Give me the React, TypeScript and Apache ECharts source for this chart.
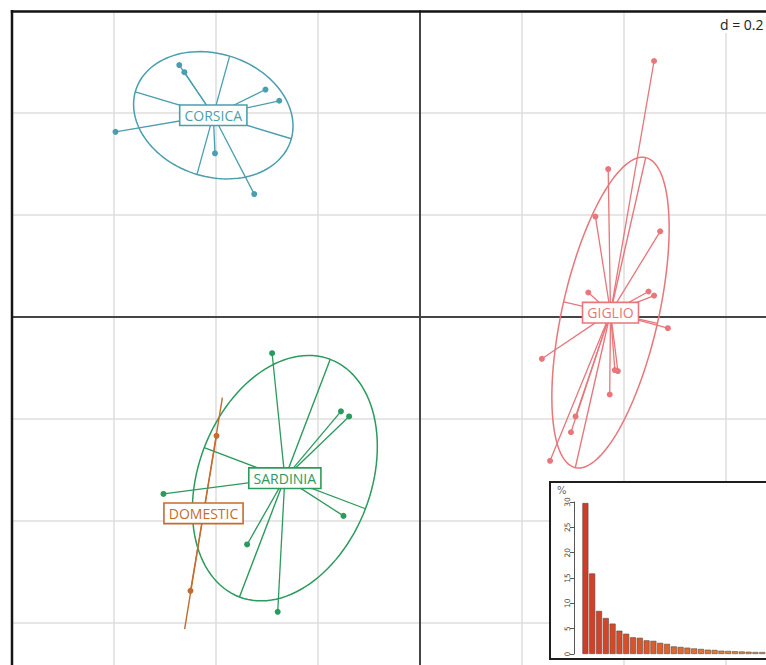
import React, { useEffect, useRef } from "react";
import * as echarts from "echarts";

// ---- data (axis units; grid step d = 0.2) ----
const groupNames = ["CORSICA", "GIGLIO", "SARDINIA", "DOMESTIC"];
const groupColors = ["#4a9fae", "#e8767b", "#2b9a5d", "#c46c2e"];

const corsicaX = [-0.472, -0.462, -0.303, -0.276, -0.597, -0.402, -0.325];
const corsicaY = [0.494, 0.48, 0.446, 0.424, 0.363, 0.321, 0.241];

const giglioX = [0.459, 0.369, 0.344, 0.471, 0.33, 0.448, 0.459, 0.486, 0.239, 0.382, 0.388, 0.372, 0.305, 0.296, 0.255];
const giglioY = [0.502, 0.29, 0.197, 0.168, 0.048, 0.05, 0.042, -0.022, -0.082, -0.104, -0.106, -0.152, -0.195, -0.226, -0.282];

const sardiniaX = [-0.29, -0.155, -0.139, -0.503, -0.15, -0.339, -0.279];
const sardiniaY = [-0.071, -0.185, -0.195, -0.347, -0.39, -0.446, -0.578];

const domesticX = [-0.399, -0.45];
const domesticY = [-0.233, -0.537];

// ellipse semi-axes (major, minor) per group
const ellipseMajor = [
  [0.153, -0.046],
  [0.069, 0.304],
  [0.089, 0.233],
  [0.037, 0.227],
];
const ellipseMinor = [
  [0.032, 0.116],
  [0.092, -0.021],
  [0.158, -0.06],
  [0, 0],
];

// inset: eigenvalues (%)
const eigenPct = [29.8, 15.9, 8.5, 7.1, 6.0, 4.6, 4.0, 3.3, 3.2, 2.7, 2.6, 2.2, 2.0, 1.5, 1.4, 1.25, 1.1, 1.0, 0.85, 0.8, 0.65, 0.6, 0.55, 0.5, 0.45, 0.4, 0.38, 0.35, 0.32, 0.3];
const eigenIdx = eigenPct.map((_, i) => String(i + 1));

const groupX = [corsicaX, giglioX, sardiniaX, domesticX];
const groupY = [corsicaY, giglioY, sardiniaY, domesticY];

const mean = (a: number[]) => a.reduce((s, v) => s + v, 0) / a.length;

function hexToRgb(h: string) {
  const n = parseInt(h.slice(1), 16);
  return [(n >> 16) & 255, (n >> 8) & 255, n & 255];
}
function mix(stops: [number, string][], t: number) {
  for (let i = 0; i < stops.length - 1; i++) {
    const [t0, c0] = stops[i];
    const [t1, c1] = stops[i + 1];
    if (t <= t1) {
      const f = (t - t0) / (t1 - t0);
      const a = hexToRgb(c0);
      const b = hexToRgb(c1);
      const r = a.map((v, k) => Math.round(v + (b[k] - v) * f));
      return `rgb(${r[0]},${r[1]},${r[2]})`;
    }
  }
  return stops[stops.length - 1][1];
}
const barStops: [number, string][] = [
  [0, "#d03c27"],
  [0.35, "#dc5c2c"],
  [0.7, "#e27e38"],
  [1, "#c9a07a"],
];

export default function App() {
  const ref = useRef<HTMLDivElement>(null);
  useEffect(() => {
    if (!ref.current) return;
    const chart = echarts.init(ref.current, undefined, { renderer: "svg" });

    const centroids = groupX.map((xs, gi) => [mean(xs), mean(groupY[gi])]);

    const renderGroup = (gi: number) => (_params: any, api: any) => {
      const xs = groupX[gi];
      const ys = groupY[gi];
      const [cx, cy] = centroids[gi];
      const col = groupColors[gi];
      const C = api.coord([cx, cy]);
      const [ax, ay] = ellipseMajor[gi];
      const [bx, by] = ellipseMinor[gi];
      const hasMinor = bx !== 0 || by !== 0;
      const children: any[] = [];
      const line = (p: number[], q: number[], w = 1.3) => ({
        type: "line",
        shape: { x1: p[0], y1: p[1], x2: q[0], y2: q[1] },
        style: { stroke: col, lineWidth: w, fill: null },
      });
      if (hasMinor) {
        const ell: number[][] = [];
        for (let k = 0; k <= 120; k++) {
          const t = (2 * Math.PI * k) / 120;
          ell.push(
            api.coord([
              cx + ax * Math.cos(t) + bx * Math.sin(t),
              cy + ay * Math.cos(t) + by * Math.sin(t),
            ])
          );
        }
        children.push({
          type: "polyline",
          shape: { points: ell },
          style: { stroke: col, lineWidth: 1.5, fill: null },
        });
        children.push(line(api.coord([cx + bx, cy + by]), api.coord([cx - bx, cy - by])));
      }
      children.push(line(api.coord([cx + ax, cy + ay]), api.coord([cx - ax, cy - ay]), 1.4));
      xs.forEach((x, j) => children.push(line(C, api.coord([x, ys[j]]))));
      xs.forEach((x, j) => {
        const P = api.coord([x, ys[j]]);
        children.push({ type: "circle", shape: { cx: P[0], cy: P[1], r: 3 }, style: { fill: col } });
      });
      children.push({
        type: "text",
        x: C[0],
        y: C[1],
        z2: 10,
        style: {
          text: groupNames[gi],
          fill: col,
          fontFamily: "Open Sans",
          fontSize: 14,
          align: "center",
          verticalAlign: "middle",
          backgroundColor: "#ffffff",
          borderColor: col,
          borderWidth: 1.6,
          padding: [3, 4, 2, 4],
        },
      });
      return { type: "group", children };
    };

    const groupSeries = groupNames.map((name, gi) => ({
      type: "custom",
      name,
      xAxisIndex: 0,
      yAxisIndex: 0,
      data: [centroids[gi]],
      renderItem: renderGroup(gi),
      silent: true,
      z: 2,
    }));

    const barColors = eigenPct.map((_, i) => mix(barStops, i / (eigenPct.length - 1)));

    chart.setOption({
      animation: false,
      backgroundColor: "#ffffff",
      grid: [
        { left: 12, top: 11, width: 816, height: 714, show: false },
        { left: 582, top: 502, width: 204, height: 152 },
      ],
      xAxis: [
        {
          type: "value",
          gridIndex: 0,
          min: -0.8,
          max: 0.8,
          interval: 0.2,
          axisLine: { show: true, onZero: true, lineStyle: { color: "#454545", width: 2 } },
          axisTick: { show: false },
          axisLabel: { show: false },
          splitLine: { show: true, lineStyle: { color: "#dedede", width: 1.5 } },
        },
        { type: "category", gridIndex: 1, data: eigenIdx, show: false },
      ],
      yAxis: [
        {
          type: "value",
          gridIndex: 0,
          min: -0.8,
          max: 0.6,
          interval: 0.2,
          axisLine: { show: true, onZero: true, lineStyle: { color: "#454545", width: 2 } },
          axisTick: { show: false },
          axisLabel: { show: false },
          splitLine: { show: true, lineStyle: { color: "#dedede", width: 1.5 } },
        },
        {
          type: "value",
          gridIndex: 1,
          min: 0,
          max: 30,
          interval: 5,
          offset: 8,
          z: 60,
          axisLine: { show: true, lineStyle: { color: "#555555", width: 1 } },
          axisTick: { show: true, length: 4, lineStyle: { color: "#555555" } },
          axisLabel: { rotate: 90, fontSize: 7.5, color: "#444444", margin: 3, fontFamily: "DejaVu Sans" },
          splitLine: { show: false },
        },
      ],
      graphic: {
        elements: [
          {
            type: "line",
            z: 3,
            shape: { x1: 12, y1: 10, x2: 12, y2: 740 },
            style: { stroke: "#151515", lineWidth: 2.5 },
            silent: true,
          },
          {
            type: "line",
            z: 3,
            shape: { x1: 10.75, y1: 11.5, x2: 850, y2: 11.5 },
            style: { stroke: "#151515", lineWidth: 2.5 },
            silent: true,
          },
          {
            type: "rect",
            z: 50,
            shape: { x: 550, y: 482, width: 300, height: 177 },
            style: { fill: "#ffffff", stroke: "#1e1e1e", lineWidth: 2 },
            silent: true,
          },
          {
            type: "text",
            z: 61,
            x: 557,
            y: 485,
            style: { text: "%", fontSize: 10, fill: "#666666", fontFamily: "DejaVu Sans" },
            silent: true,
          },
          {
            type: "rect",
            z: 50,
            shape: { x: 712, y: 13, width: 60, height: 20 },
            style: { fill: "#ffffff", stroke: null },
            silent: true,
          },
          {
            type: "text",
            z: 51,
            x: 720,
            y: 24,
            style: { text: "d = 0.2", fontSize: 14, fill: "#222222", fontFamily: "Open Sans", verticalAlign: "middle" },
            silent: true,
          },
        ],
      },
      series: [
        ...groupSeries,
        {
          type: "bar",
          xAxisIndex: 1,
          yAxisIndex: 1,
          barWidth: 6,
          z: 60,
          silent: true,
          itemStyle: { borderColor: "#5a4a40", borderWidth: 0.6 },
          data: eigenPct.map((v, i) => ({ value: v, itemStyle: { color: barColors[i] } })),
        },
      ],
    });
    return () => chart.dispose();
  }, []);
  return (
    <div style={{ position: "absolute", left: 0, top: 0, width: 766, height: 665, overflow: "hidden", background: "#fff" }}>
      <div ref={ref} style={{ width: 850, height: 740 }} />
    </div>
  );
}
